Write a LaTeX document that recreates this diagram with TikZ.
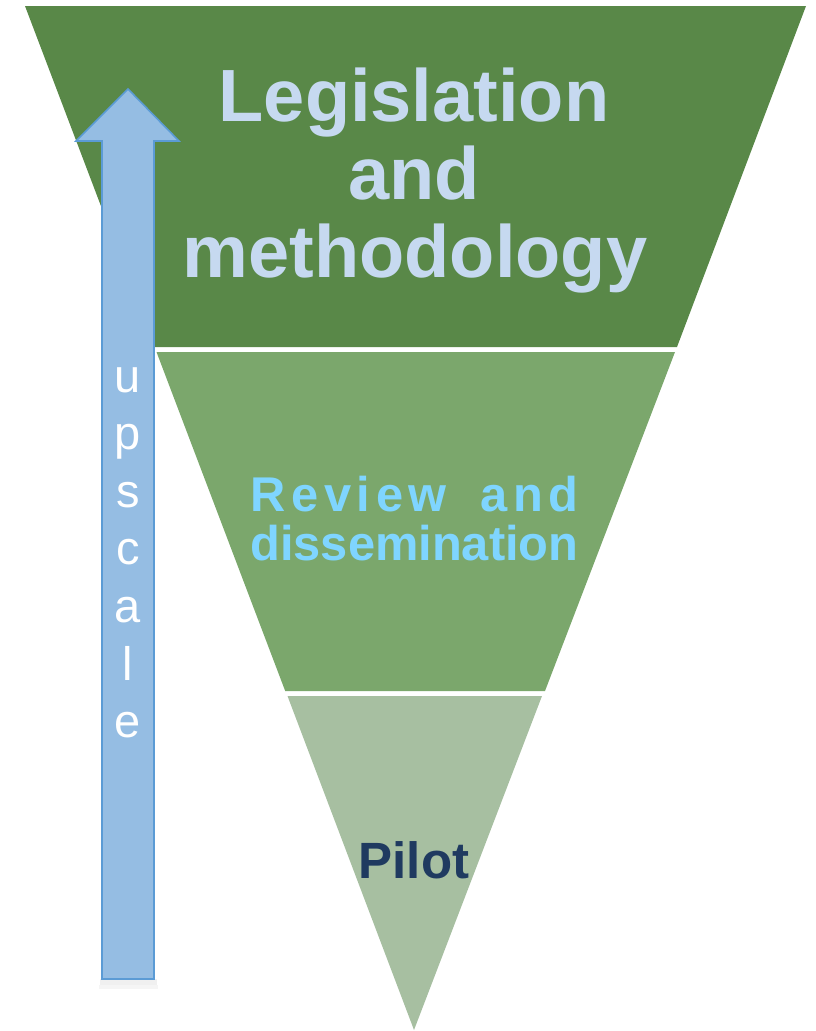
\documentclass[tikz,border=0pt]{standalone}
\usepackage{fontspec}
\usepackage{calc}
\setmainfont{Liberation Sans}
\definecolor{gDark}{HTML}{598848}
\definecolor{gMid}{HTML}{7BA76C}
\definecolor{gLight}{HTML}{A7BFA1}
\definecolor{tTop}{HTML}{C6D9F0}
\definecolor{tMid}{HTML}{7FD5FF}
\definecolor{tPilot}{HTML}{1F3A60}
\definecolor{arFill}{HTML}{95BDE3}
\definecolor{arLine}{HTML}{5B9BD5}
\tikzset{
  band/.style={draw=none},
  toptext/.style={anchor=base, inner sep=0pt, text=tTop, font=\fontsize{74}{78}\selectfont\bfseries},
  midtext/.style={anchor=base, inner sep=0pt, text=tMid, font=\fontsize{48.8}{50}\selectfont\bfseries},
  pilottext/.style={anchor=base, inner sep=0pt, text=tPilot, font=\fontsize{51}{52}\selectfont\bfseries},
  uptext/.style={anchor=base, inner sep=0pt, text=white, font=\fontsize{47}{57}\selectfont},
  uparrow/.style={fill=arFill, draw=arLine, line width=1.6pt, line join=miter}
}
\begin{document}
\begin{tikzpicture}[x=1pt,y=-1pt]
\useasboundingbox (0,0) rectangle (815,1031);
% funnel bands
\fill[gDark] (25,6) -- (806,6) -- (677,347) -- (154.5,347) -- cycle;
\fill[gMid] (156.5,352) -- (675,352) -- (545,691) -- (285.2,691) -- cycle;
\fill[gLight] (287.5,696) -- (542,696) -- (414,1030) -- cycle;
% texts
\node[toptext] (leg) at (414,121) {Legislation};
\node[toptext] (and) at (414,199) {and};
\node[toptext] (meth) at (415,277) {methodology};
\node[midtext] (rev) at (414.5,511) {\makebox[\widthof{dissemination}][s]{R\hfill e\hfill v\hfill i\hfill e\hfill w\hfill\hfill\hfill\hfill\hfill\hfill a\hfill n\hfill d}};
\node[midtext] (diss) at (414.5,560) {dissemination};
\node[pilottext] (pilot) at (414,878) {Pilot};
% arrow shadow
\fill[black, opacity=0.06] (100,979) rectangle (157,985);
\fill[black, opacity=0.04] (99,985) rectangle (158,989);
% arrow
\draw[uparrow] (102,979) -- (102,141) -- (76,141) -- (128,89) -- (179,141) -- (154,141) -- (154,979) -- cycle;
\foreach \c [count=\i from 0] in {u,p,s,c,a,l,e}{
  \node[uptext] (up\i) at (128,392+57.6*\i) {\c};
}
\end{tikzpicture}
\end{document}
